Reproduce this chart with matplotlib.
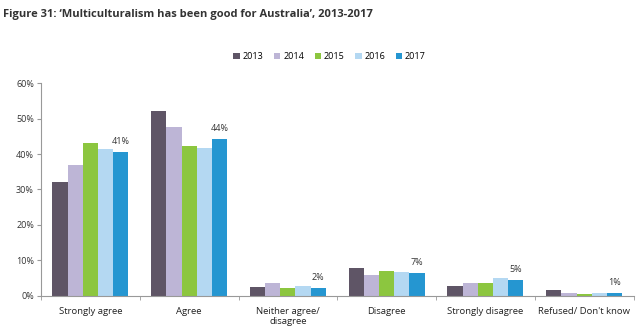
import matplotlib.pyplot as plt
import numpy as np

plt.rcParams["font.family"] = ["Open Sans", "DejaVu Sans"]

# Data
categories = ["Strongly agree", "Agree", "Neither agree/\ndisagree",
              "Disagree", "Strongly disagree", "Refused/ Don't know"]
years = ["2013", "2014", "2015", "2016", "2017"]
v2013 = [32.0, 52.2, 2.6, 7.8, 2.7, 1.7]
v2014 = [36.9, 47.6, 3.7, 5.9, 3.7, 0.9]
v2015 = [43.2, 42.3, 2.2, 7.1, 3.6, 0.5]
v2016 = [41.3, 41.8, 2.9, 6.7, 5.1, 0.9]
v2017 = [40.6, 44.2, 2.2, 6.5, 4.5, 0.9]
labels_2017 = ["41%", "44%", "2%", "7%", "5%", "1%"]

series = [v2013, v2014, v2015, v2016, v2017]
colors = ["#5f5566", "#bdb5d6", "#8cc63f", "#b4d8f2", "#2596d1"]

fig = plt.figure(figsize=(6.4, 3.31), dpi=100)
ax = fig.add_axes([0.064, 0.106, 0.926, 0.643])

x = np.arange(len(categories))
w = 0.154
for i, (vals, c, yr) in enumerate(zip(series, colors, years)):
    ax.bar(x + (i - 2) * w, vals, width=w, color=c, label=yr, linewidth=0)

# value labels above 2017 bars
for xi, v, lab in zip(x, v2017, labels_2017):
    ax.text(xi + 2 * w, v + 1.6, lab, ha="center", va="bottom",
            fontsize=6.5, color="#333333")

ax.set_xlim(-0.5, len(categories) - 0.5)
ax.set_ylim(0, 60)
ax.set_yticks(range(0, 61, 10))
ax.set_yticklabels([f"{t}%" for t in range(0, 61, 10)], fontsize=6.5, color="#333333")
ax.set_xticks(x)
ax.set_xticklabels(categories, fontsize=6.8, color="#222222")
ax.tick_params(axis="x", length=0, pad=8)
ax.tick_params(axis="y", length=3, color="#999999", pad=2)
ax.set_xticks(np.arange(-0.5, len(categories), 1), minor=True)
ax.tick_params(axis="x", which="minor", length=3, color="#999999")

for s in ["top", "right"]:
    ax.spines[s].set_visible(False)
for s in ["left", "bottom"]:
    ax.spines[s].set_color("#999999")
    ax.spines[s].set_linewidth(0.8)

leg = fig.legend(loc="center", bbox_to_anchor=(0.515, 0.828), ncol=5,
                 frameon=False, fontsize=6.5, handlelength=0.7, handleheight=0.7,
                 handletextpad=0.3, columnspacing=1.2)

fig.text(0.005, 0.955, "Figure 31: \u2018Multiculturalism has been good for Australia\u2019, 2013-2017",
         fontsize=8, fontweight="bold", color="#333333", va="center")

fig.savefig("out.png", dpi=100)
